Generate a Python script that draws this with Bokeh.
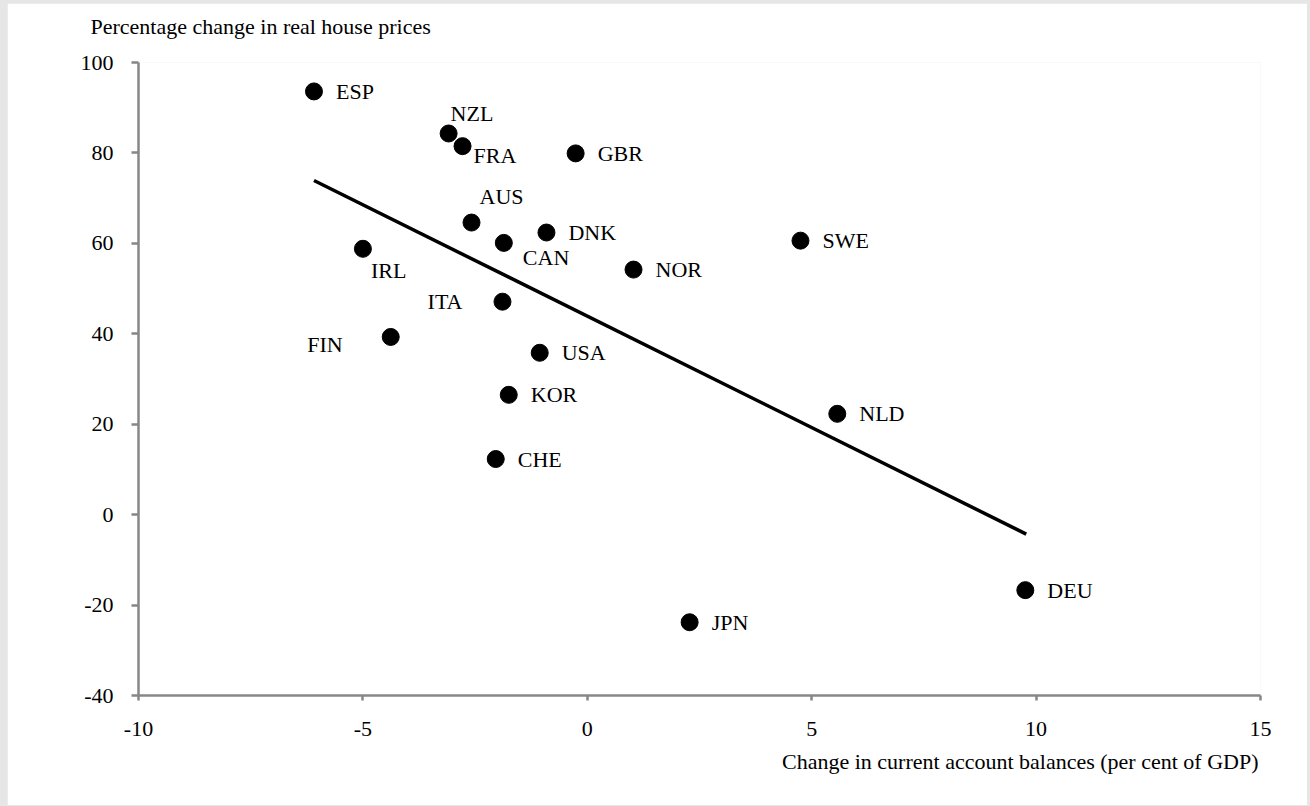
from bokeh.plotting import figure
from bokeh.models import ColumnDataSource, Range1d, FixedTicker, Title
from bokeh.core.properties import value
from bokeh.embed import file_html
from bokeh.resources import INLINE

# ---- data ----
countries = ["ESP", "NZL", "FRA", "GBR", "AUS", "DNK", "CAN", "IRL", "NOR",
             "SWE", "ITA", "FIN", "USA", "KOR", "CHE", "NLD", "JPN", "DEU"]
ca_change = [-6.09, -3.09, -2.78, -0.26, -2.58, -0.91, -1.86, -5.00, 1.03,
             4.75, -1.89, -4.38, -1.06, -1.75, -2.04, 5.57, 2.28, 9.76]
house_price_change = [93.6, 84.3, 81.5, 79.9, 64.6, 62.4, 60.1, 58.8, 54.2,
                      60.6, 47.1, 39.3, 35.8, 26.5, 12.3, 22.3, -23.8, -16.7]
trend_x = [-6.09, 9.78]
trend_y = [73.9, -4.3]
x_ticks = [-10, -5, 0, 5, 10, 15]
x_tick_labels = ["-10", "-5", "0", "5", "10", "15"]
y_ticks = [-40, -20, 0, 20, 40, 60, 80, 100]
y_tick_labels = ["-40", "-20", "0", "20", "40", "60", "80", "100"]
y_title = "Percentage change in real house prices"
x_title = "Change in current account balances (per cent of GDP)"

# ---- label placement (style, not data) ----
placement = {
    "NZL": (2, -20, "left"), "FRA": (11, 9, "left"), "AUS": (8, -26, "left"),
    "CAN": (19, 15, "left"), "IRL": (8, 22, "left"), "ITA": (-40, 0, "right"),
    "FIN": (-48, 8, "right"),
}
default_place = (22, 0, "left")
xo = [placement.get(c, default_place)[0] for c in countries]
yo = [placement.get(c, default_place)[1] for c in countries]
al = [placement.get(c, default_place)[2] for c in countries]

src = ColumnDataSource(dict(x=ca_change, y=house_price_change, name=countries,
                            xo=xo, yo=yo, al=al))

FONT = "Liberation Serif"
FS = "22px"

p = figure(width=1300, height=802, output_backend="svg", toolbar_location=None,
           x_range=Range1d(-10, 15), y_range=Range1d(-40, 100),
           min_border_left=131, min_border_right=47, min_border_top=59,
           min_border_bottom=110)
p.outline_line_color = None
p.xgrid.visible = False
p.ygrid.visible = False
p.background_fill_color = "white"
p.border_fill_color = "white"

for ax, ticks, labels, tick_out, standoff in (
        (p.xaxis[0], x_ticks, x_tick_labels, 5, 21),
        (p.yaxis[0], y_ticks, y_tick_labels, 7, 18)):
    ax.ticker = FixedTicker(ticks=ticks)
    ax.major_label_overrides = {t: l for t, l in zip(ticks, labels)}
    ax.axis_line_color = "#878787"
    ax.axis_line_width = 2.5
    ax.major_tick_line_color = "#878787"
    ax.major_tick_line_width = 2.5
    ax.major_tick_out = tick_out
    ax.major_tick_in = 0
    ax.minor_tick_line_color = None
    ax.major_label_text_font = FONT
    ax.major_label_text_font_size = FS
    ax.major_label_text_color = "black"
    ax.major_label_standoff = standoff
p.yaxis[0].major_label_orientation = "horizontal"

p.line(trend_x, trend_y, line_color="black", line_width=3.5)
p.scatter("x", "y", source=src, size=17, fill_color="black", line_color="black")
p.text("x", "y", text="name", source=src, x_offset="xo", y_offset="yo",
       text_align="al", text_baseline="middle", text_font=value(FONT),
       text_font_size=FS, text_color="black")

# spacer panel so that the y-axis title sits higher above the frame
p.add_layout(Title(text=" ", standoff=0, text_font=FONT, text_font_size="19px"),
             "above")
p.add_layout(Title(text=y_title, align="left", offset=-48, standoff=2,
                   text_font=FONT, text_font_size=FS, text_font_style="normal",
                   text_color="black"), "above")
p.add_layout(Title(text=x_title, align="right", offset=2, standoff=16,
                   text_font=FONT, text_font_size=FS, text_font_style="normal",
                   text_color="black"), "below")

html = file_html(p, INLINE)
html = html.replace("</head>",
                    "<style>html,body{background:#e6e6e6 !important;}"
                    "body{padding:3px 0 0 7px !important;}</style></head>", 1)
open("out.html", "w").write(html)
